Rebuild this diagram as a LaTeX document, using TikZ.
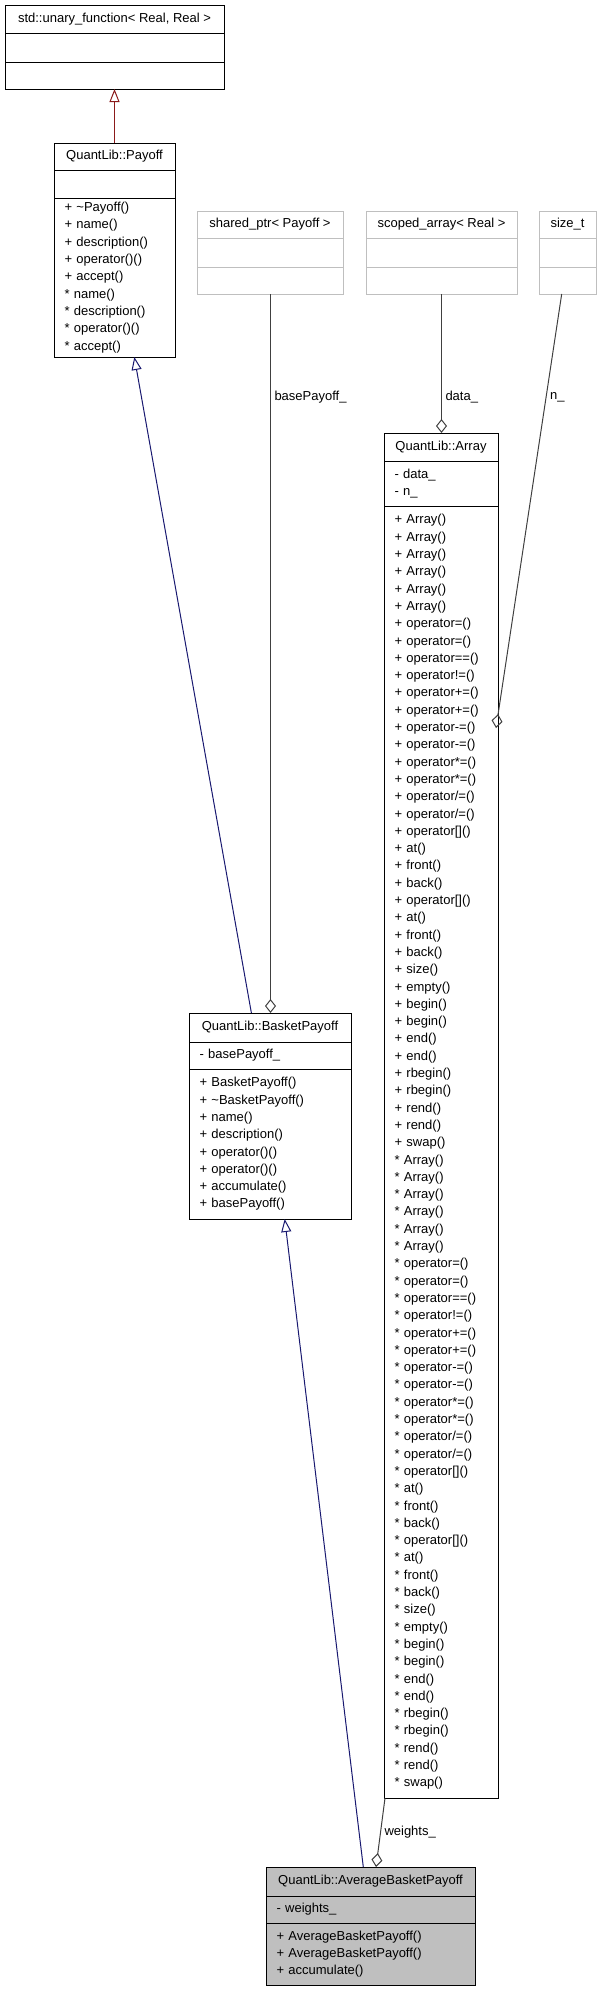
\documentclass[tikz,border=0pt]{standalone}
\usepackage{fontspec}
\setmainfont{Liberation Sans}
\usetikzlibrary{arrows.meta}

\definecolor{inhblue}{RGB}{25,25,112}
\definecolor{inhred}{RGB}{139,26,26}
\definecolor{aggrey}{RGB}{64,64,64}
\definecolor{extgrey}{RGB}{191,191,191}

% Array prints the same member list twice, once with + and once with *
\newcommand{\arraymembers}[1]{%
  {}#1 Array()\\{}#1 Array()\\{}#1 Array()\\{}#1 Array()\\{}#1 Array()\\{}#1 Array()\\
  {}#1 operator=()\\{}#1 operator=()\\{}#1 operator==()\\{}#1 operator!=()\\
  {}#1 operator+=()\\{}#1 operator+=()\\{}#1 operator-=()\\{}#1 operator-=()\\
  {}#1 operator*=()\\{}#1 operator*=()\\{}#1 operator/=()\\{}#1 operator/=()\\
  {}#1 operator[]()\\{}#1 at()\\{}#1 front()\\{}#1 back()\\
  {}#1 operator[]()\\{}#1 at()\\{}#1 front()\\{}#1 back()\\
  {}#1 size()\\{}#1 empty()\\{}#1 begin()\\{}#1 begin()\\{}#1 end()\\{}#1 end()\\
  {}#1 rbegin()\\{}#1 rbegin()\\{}#1 rend()\\{}#1 rend()\\{}#1 swap()%
}

\begin{document}
\begin{tikzpicture}[x=1pt, y=-1pt,
    every node/.style={font=\fontsize{13}{17.3}\selectfont},
    box/.style={draw, line width=1pt, outer sep=0pt, inner xsep=10.5pt, inner ysep=0pt, anchor=north west},
    ext/.style={box, draw=extgrey},
    body/.style={box, align=left},
    inherit/.style={inhblue, line width=1pt, -{Triangle[open, length=13pt, width=10pt]}},
    aggr/.style={aggrey, line width=1pt, -{Diamond[open, length=14pt, width=11pt]}},
    lbl/.style={text=black, inner sep=3.5pt, anchor=west}]

  \useasboundingbox (0,0) rectangle (601,1992);

  % std::unary_function
  \node[box, minimum width=219pt, minimum height=28pt] (unary) at (5,5) {std::unary\_function< Real, Real >};
  \node[box, minimum width=219pt, minimum height=29pt] (unary-a) at (unary.south west) {};
  \node[box, minimum width=219pt, minimum height=27pt] (unary-m) at (unary-a.south west) {};

  % QuantLib::Payoff
  \node[box, minimum width=121pt, minimum height=27pt] (pay) at (54,143) {QuantLib::Payoff};
  \node[box, minimum width=121pt, minimum height=28pt] (pay-a) at (pay.south west) {};
  \node[body, text width=100pt, minimum height=159pt] (pay-m) at (pay-a.south west)
    {+ \textasciitilde Payoff()\\+ name()\\+ description()\\+ operator()()\\+ accept()\\
     {}* name()\\{}* description()\\{}* operator()()\\{}* accept()};

  % external classes
  \node[ext, minimum width=146pt, minimum height=27pt] (sp) at (197,211) {shared\_ptr< Payoff >};
  \node[ext, minimum width=146pt, minimum height=29pt] (sp-a) at (sp.south west) {};
  \node[ext, minimum width=146pt, minimum height=27pt] (sp-m) at (sp-a.south west) {};

  \node[ext, minimum width=151pt, minimum height=27pt] (sa) at (366,211) {scoped\_array< Real >};
  \node[ext, minimum width=151pt, minimum height=29pt] (sa-a) at (sa.south west) {};
  \node[ext, minimum width=151pt, minimum height=27pt] (sa-m) at (sa-a.south west) {};

  \node[ext, minimum width=57pt, minimum height=27pt] (st) at (539,211) {size\_t};
  \node[ext, minimum width=57pt, minimum height=29pt] (st-a) at (st.south west) {};
  \node[ext, minimum width=57pt, minimum height=27pt] (st-m) at (st-a.south west) {};

  % QuantLib::Array
  \node[box, minimum width=114pt, minimum height=28pt] (arr) at (384,433) {QuantLib::Array};
  \node[body, text width=93pt, minimum height=45pt] (arr-a) at (arr.south west) {- data\_\\- n\_};
  \node[body, text width=93pt, minimum height=1292pt] (arr-m) at (arr-a.south west)
    {\arraymembers{+}\\\arraymembers{*}};

  % QuantLib::BasketPayoff
  \node[box, minimum width=162pt, minimum height=29pt] (bask) at (189,1013) {QuantLib::BasketPayoff};
  \node[body, text width=141pt, minimum height=27pt] (bask-a) at (bask.south west) {- basePayoff\_};
  \node[body, text width=141pt, minimum height=150pt] (bask-m) at (bask-a.south west)
    {+ BasketPayoff()\\+ \textasciitilde BasketPayoff()\\+ name()\\+ description()\\
     + operator()()\\+ operator()()\\+ accumulate()\\+ basePayoff()};

  % QuantLib::AverageBasketPayoff
  \node[box, fill=extgrey, minimum width=209pt, minimum height=29pt] (avg) at (266,1867) {QuantLib::AverageBasketPayoff};
  \node[body, fill=extgrey, text width=188pt, minimum height=27pt] (avg-a) at (avg.south west) {- weights\_};
  \node[body, fill=extgrey, text width=188pt, minimum height=62pt] (avg-m) at (avg-a.south west)
    {+ AverageBasketPayoff()\\+ AverageBasketPayoff()\\+ accumulate()};

  % inheritance
  \draw[inherit, inhred] (pay.north) -- (unary-m.south);
  \draw[inherit] ([xshift=-18.6pt]bask.north) -- ([xshift=19.8pt]pay-m.south);
  \draw[inherit] ([xshift=-7.2pt]avg.north) -- ([xshift=14.7pt]bask-m.south);

  % members
  \draw[aggr] ([xshift=0.5pt]sp-m.south) -- node[lbl, pos=0.143] (base-lbl) {basePayoff\_} ([xshift=0.5pt]bask.north);
  \draw[aggr] (sa-m.south) -- node[lbl, pos=0.739] (data-lbl) {data\_} ([xshift=0.5pt]arr.north);
  \draw[aggr] ([xshift=-5.8pt]st-m.south) -- node[lbl, pos=0.237] (n-lbl) {n\_} ([xshift=-2pt, yshift=-222pt]arr-m.north east);
  \draw[aggr] ([xshift=-56pt]arr-m.south) -- node[lbl, pos=0.5] (weights-lbl) {weights\_} ([xshift=5.5pt]avg.north);

\end{tikzpicture}
\end{document}
